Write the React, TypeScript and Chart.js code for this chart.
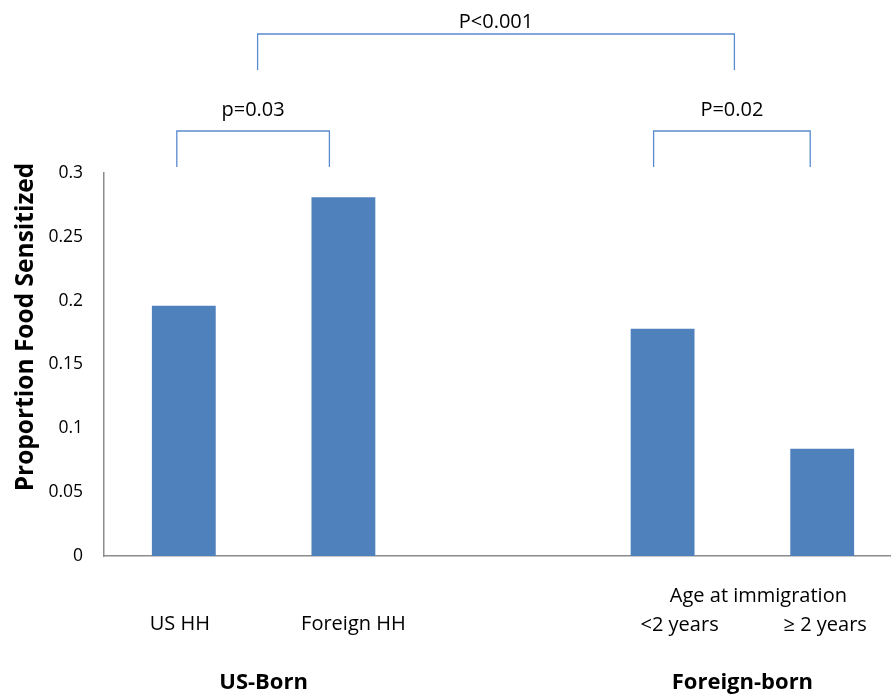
import React, { useEffect, useRef } from "react";
import { Chart, registerables } from "chart.js";

Chart.register(...registerables);

// ---- data ----
const categories = ["US HH", "Foreign HH", "", "<2 years", "≥ 2 years"];
const proportions: (number | null)[] = [0.196, 0.281, null, 0.178, 0.084];
const yTickValues = [0, 0.05, 0.1, 0.15, 0.2, 0.25, 0.3];
const yTickLabels = ["0", "0.05", "0.1", "0.15", "0.2", "0.25", "0.3"];
const yTitle = "Proportion Food Sensitized";
const groupLabels = ["US-Born", "Foreign-born"];
const groupSpans = [
  [0, 1],
  [3, 4],
];
const subHeader = "Age at immigration";
const subHeaderSpan = [3, 4];
const comparisonLabels = ["p=0.03", "P=0.02", "P<0.001"];
const comparisonPairs = [
  [0, 1],
  [3, 4],
  [0.5, 3.5],
];

// ---- styles / layout ----
const FONT = "'Open Sans', sans-serif";
const BAR_COLOR = "#4F81BD";
const BRACKET_COLOR = "#5B8BCF";
const AXIS_COLOR = "#8C8C8C";
const CANVAS_W = 902;
const CANVAS_H = 698;
const LAYOUT = {
  plotTop: 173,
  plotBottomPad: 142,
  yAxisWidth: 104,
  bracketLevels: [
    { bar: 131, foot: 167, text: 116 },
    { bar: 131, foot: 167, text: 116 },
    { bar: 34, foot: 70, text: 28 },
  ],
  bracketDx: [
    [-7, -14],
    [-9, -12],
    [-6, -8],
  ],
  catLabelY: [630, 630, 0, 631, 631],
  catLabelDx: [-4, 10, 0, 17, 3],
  subHeaderY: 602,
  subHeaderDx: 16,
  groupY: 689,
  yTitleX: 26,
  yTitleY: 327,
};

const annotationPlugin = {
  id: "annotations",
  afterDraw(chart: any) {
    const ctx = chart.ctx as CanvasRenderingContext2D;
    const x = chart.scales.x;
    ctx.save();
    // brackets
    ctx.strokeStyle = BRACKET_COLOR;
    ctx.lineWidth = 1.3;
    comparisonPairs.forEach((pair, i) => {
      const lv = LAYOUT.bracketLevels[i];
      const dx = LAYOUT.bracketDx[i];
      const pos = (v: number) =>
        Number.isInteger(v)
          ? x.getPixelForValue(v)
          : (x.getPixelForValue(Math.floor(v)) + x.getPixelForValue(Math.ceil(v))) / 2;
      const x1 = pos(pair[0]) + dx[0];
      const x2 = pos(pair[1]) + dx[1];
      ctx.beginPath();
      ctx.moveTo(x1, lv.foot);
      ctx.lineTo(x1, lv.bar);
      ctx.lineTo(x2, lv.bar);
      ctx.lineTo(x2, lv.foot);
      ctx.stroke();
      ctx.fillStyle = "#000";
      ctx.font = `20px ${FONT}`;
      ctx.textAlign = "center";
      ctx.textBaseline = "alphabetic";
      ctx.fillText(comparisonLabels[i], (x1 + x2) / 2, lv.text);
    });
    // category labels
    ctx.fillStyle = "#000";
    ctx.font = `20px ${FONT}`;
    ctx.textAlign = "center";
    ctx.textBaseline = "alphabetic";
    categories.forEach((c, i) => {
      if (!c) return;
      ctx.fillText(c, x.getPixelForValue(i) + LAYOUT.catLabelDx[i], LAYOUT.catLabelY[i]);
    });
    const subX =
      (x.getPixelForValue(subHeaderSpan[0]) + x.getPixelForValue(subHeaderSpan[1])) / 2 +
      LAYOUT.subHeaderDx;
    ctx.fillText(subHeader, subX, LAYOUT.subHeaderY);
    // group labels
    ctx.font = `bold 22px ${FONT}`;
    groupLabels.forEach((g, i) => {
      const gx =
        (x.getPixelForValue(groupSpans[i][0]) + x.getPixelForValue(groupSpans[i][1])) / 2;
      ctx.fillText(g, gx, LAYOUT.groupY);
    });
    // y title
    ctx.translate(LAYOUT.yTitleX, LAYOUT.yTitleY);
    ctx.rotate(-Math.PI / 2);
    ctx.textBaseline = "middle";
    ctx.font = `bold 24.5px ${FONT}`;
    ctx.fillText(yTitle, 0, 0);
    ctx.restore();
  },
};

export default function App() {
  const ref = useRef<HTMLCanvasElement | null>(null);
  useEffect(() => {
    if (!ref.current) return;
    const chart = new Chart(ref.current, {
      type: "bar",
      data: {
        labels: categories,
        datasets: [
          {
            data: proportions as any,
            backgroundColor: BAR_COLOR,
            borderWidth: 0,
            barPercentage: 0.4,
            categoryPercentage: 1,
          },
        ],
      },
      options: {
        responsive: false,
        animation: false,
        devicePixelRatio: 1,
        layout: {
          padding: { top: LAYOUT.plotTop, bottom: LAYOUT.plotBottomPad, left: 0, right: 0 },
        },
        plugins: { legend: { display: false }, tooltip: { enabled: false }, title: { display: false } },
        scales: {
          x: {
            grid: { display: false, drawTicks: false },
            border: { display: true, color: AXIS_COLOR, width: 1.5 },
            ticks: { display: false },
            afterFit(scale: any) {
              scale.height = 0;
            },
          },
          y: {
            min: 0,
            max: 0.3,
            grid: { display: false, drawTicks: false },
            border: { display: true, color: AXIS_COLOR, width: 1.5 },
            afterBuildTicks(scale: any) {
              scale.ticks = yTickValues.map((v) => ({ value: v }));
            },
            ticks: {
              padding: 21,
              color: "#000",
              font: { family: FONT, size: 17.5 },
              callback: (v: any) => {
                const idx = yTickValues.findIndex((t) => Math.abs(t - Number(v)) < 1e-9);
                return idx >= 0 ? yTickLabels[idx] : "";
              },
            },
            afterFit(scale: any) {
              scale.width = LAYOUT.yAxisWidth;
            },
          },
        },
      },
      plugins: [annotationPlugin],
    });
    return () => chart.destroy();
  }, []);
  return (
    <div
      style={{
        position: "fixed",
        left: 0,
        top: 0,
        width: 891,
        height: 698,
        overflow: "hidden",
        background: "#fff",
      }}
    >
      <canvas ref={ref} width={CANVAS_W} height={CANVAS_H} style={{ display: "block" }} />
    </div>
  );
}
